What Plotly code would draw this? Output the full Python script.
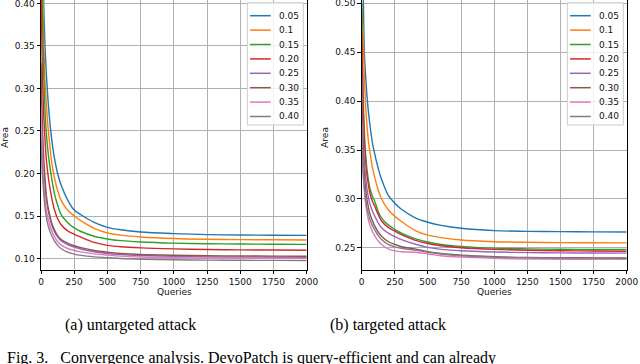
import plotly.graph_objects as go

# ---------------- data ----------------
queries = [0, 10, 20, 30, 40, 50, 60, 80, 100, 125, 150, 200, 250, 300, 400,
           500, 600, 750, 1000, 1250, 1500, 1750, 2000]
labels = ["0.05", "0.1", "0.15", "0.20", "0.25", "0.30", "0.35", "0.40"]
colors = ["#1f77b4", "#ff7f0e", "#2ca02c", "#d62728",
          "#9467bd", "#8c564b", "#e377c2", "#7f7f7f"]
x_ticks = [0, 250, 500, 750, 1000, 1250, 1500, 1750, 2000]
y_ticks_a = [0.10, 0.15, 0.20, 0.25, 0.30, 0.35, 0.40]
y_ticks_b = [0.25, 0.30, 0.35, 0.40, 0.45, 0.50]

# (a) untargeted attack
u_005 = [0.62, 0.50, 0.40, 0.350, 0.318, 0.293, 0.272, 0.241, 0.219, 0.200, 0.187, 0.169,
         0.157, 0.1515, 0.1425, 0.1367, 0.1338, 0.1312, 0.1293, 0.1281, 0.1277, 0.1274, 0.1272]
u_010 = [0.55, 0.45, 0.36, 0.310, 0.283, 0.260, 0.243, 0.214, 0.196, 0.180, 0.169, 0.157,
         0.150, 0.1445, 0.1355, 0.1300, 0.1275, 0.1254, 0.1235, 0.1226, 0.1222, 0.1220, 0.1218]
u_015 = [0.50, 0.40, 0.32, 0.275, 0.248, 0.230, 0.216, 0.195, 0.177, 0.163, 0.152, 0.1425,
         0.1360, 0.1318, 0.1262, 0.1230, 0.1210, 0.1195, 0.1181, 0.1174, 0.1170, 0.1168, 0.1167]
u_020 = [0.42, 0.32, 0.27, 0.240, 0.217, 0.202, 0.190, 0.172, 0.158, 0.147, 0.140, 0.1325,
         0.1285, 0.1252, 0.1190, 0.1155, 0.1138, 0.1125, 0.1113, 0.1106, 0.1102, 0.1100, 0.1098]
u_025 = [0.30, 0.24, 0.205, 0.185, 0.170, 0.160, 0.152, 0.140, 0.132, 0.1255, 0.1210, 0.1165,
         0.1135, 0.1112, 0.1080, 0.1060, 0.1046, 0.1035, 0.1025, 0.1020, 0.1017, 0.1015, 0.1014]
u_030 = [0.33, 0.26, 0.22, 0.195, 0.175, 0.163, 0.155, 0.142, 0.134, 0.127, 0.1225, 0.1180,
         0.1150, 0.1128, 0.1095, 0.1075, 0.1060, 0.1047, 0.1038, 0.1033, 0.1030, 0.1028, 0.1027]
u_035 = [0.28, 0.22, 0.19, 0.170, 0.157, 0.149, 0.143, 0.133, 0.126, 0.120, 0.116, 0.1118,
         0.1095, 0.1078, 0.1055, 0.1040, 0.1028, 0.1018, 0.1010, 0.1006, 0.1004, 0.1003, 0.1002]
u_040 = [0.24, 0.20, 0.178, 0.160, 0.149, 0.141, 0.135, 0.127, 0.121, 0.1155, 0.1118, 0.1075,
         0.1052, 0.1037, 0.1020, 0.1010, 0.1000, 0.0992, 0.0985, 0.0981, 0.0979, 0.0978, 0.0977]

# (b) targeted attack
t_005 = [0.56, 0.52, 0.45, 0.425, 0.405, 0.390, 0.378, 0.358, 0.345, 0.331, 0.320, 0.304,
         0.2957, 0.2895, 0.2810, 0.2762, 0.2730, 0.2700, 0.2676, 0.2669, 0.2666, 0.2664, 0.2663]
t_010 = [0.50, 0.47, 0.425, 0.395, 0.375, 0.360, 0.350, 0.333, 0.321, 0.309, 0.300, 0.289,
         0.2822, 0.2770, 0.2680, 0.2630, 0.2605, 0.2580, 0.2563, 0.2557, 0.2554, 0.2552, 0.2551]
t_015 = [0.50, 0.41, 0.37, 0.345, 0.330, 0.320, 0.312, 0.303, 0.297, 0.287, 0.2805, 0.2735,
         0.2690, 0.2650, 0.2595, 0.2560, 0.2535, 0.2515, 0.2497, 0.2490, 0.2486, 0.2484, 0.2483]
t_020 = [0.47, 0.40, 0.36, 0.338, 0.324, 0.315, 0.307, 0.298, 0.292, 0.284, 0.2775, 0.2710,
         0.2672, 0.2635, 0.2580, 0.2545, 0.2522, 0.2502, 0.2485, 0.2476, 0.2471, 0.2468, 0.2466]
t_025 = [0.42, 0.37, 0.34, 0.322, 0.310, 0.302, 0.296, 0.288, 0.282, 0.2755, 0.2705, 0.2650,
         0.2615, 0.2585, 0.2540, 0.2505, 0.2485, 0.2470, 0.2458, 0.2452, 0.2449, 0.2447, 0.2446]
t_030 = [0.40, 0.35, 0.325, 0.310, 0.299, 0.292, 0.286, 0.278, 0.272, 0.2660, 0.2620, 0.2565,
         0.2535, 0.2512, 0.2490, 0.2462, 0.2442, 0.2425, 0.2410, 0.2402, 0.2399, 0.2398, 0.2397]
t_035 = [0.38, 0.33, 0.308, 0.295, 0.286, 0.279, 0.274, 0.267, 0.262, 0.2570, 0.2535, 0.2490,
         0.2470, 0.2460, 0.2455, 0.2438, 0.2420, 0.2405, 0.2393, 0.2386, 0.2384, 0.2383, 0.2382]
t_040 = [0.37, 0.33, 0.312, 0.300, 0.291, 0.285, 0.280, 0.273, 0.268, 0.2625, 0.2585, 0.2535,
         0.2510, 0.2495, 0.2478, 0.2455, 0.2437, 0.2420, 0.2406, 0.2399, 0.2396, 0.2395, 0.2394]

untargeted = [u_005, u_010, u_015, u_020, u_025, u_030, u_035, u_040]
targeted = [t_005, t_010, t_015, t_020, t_025, t_030, t_035, t_040]

# ---------------- figure ----------------
W, H = 640, 364


def pxx(x):
    return x / W


def pxy(y):
    return 1 - y / H


fig = go.Figure()
for series, lab, col in zip(untargeted, labels, colors):
    fig.add_trace(go.Scatter(x=queries, y=series, name=lab, mode="lines",
                             line=dict(color=col, width=1.4, shape="spline", smoothing=0.9),
                             xaxis="x", yaxis="y", showlegend=False))
for series, lab, col in zip(targeted, labels, colors):
    fig.add_trace(go.Scatter(x=queries, y=series, name=lab, mode="lines",
                             line=dict(color=col, width=1.4, shape="spline", smoothing=0.9),
                             xaxis="x2", yaxis="y2", showlegend=False))

tickfont = dict(family="DejaVu Sans", size=9, color="#111111")
common_x = dict(range=[0, 2000], tickvals=x_ticks, ticks="outside", ticklen=3.5,
                tickcolor="black", showline=True, linecolor="black", linewidth=1,
                mirror=False, showgrid=True, gridcolor="#b0b0b0", gridwidth=1,
                zeroline=False, tickfont=tickfont, ticklabeloverflow="allow")
common_y = dict(ticks="outside", ticklen=3.5, tickcolor="black", showline=True,
                linecolor="black", linewidth=1, mirror=True, showgrid=True,
                gridcolor="#b0b0b0", gridwidth=1, zeroline=False, tickformat=".2f",
                tickfont=tickfont, ticklabeloverflow="allow")

ydom = [1 - 269.5 / H, 1]
fig.update_layout(
    width=W, height=H, margin=dict(l=0, r=0, t=0, b=0, autoexpand=False),
    paper_bgcolor="white", plot_bgcolor="white", showlegend=False,
    xaxis=dict(domain=[pxx(41), pxx(306.7)], anchor="y", **common_x),
    yaxis=dict(domain=ydom, anchor="x", range=[0.0871, 0.404], tickvals=y_ticks_a, **common_y),
    xaxis2=dict(domain=[pxx(361.7), pxx(626.7)], anchor="y2", **common_x),
    yaxis2=dict(domain=ydom, anchor="x2", range=[0.2279, 0.5034], tickvals=y_ticks_b, **common_y),
)

shapes = []
annotations = []
for off in (0, 320):
    # legend box
    shapes.append(dict(type="rect", xref="paper", yref="paper",
                       x0=pxx(247.3 + off), x1=pxx(303.3 + off), y0=pxy(125), y1=pxy(2.7),
                       line=dict(color="#cccccc", width=1),
                       fillcolor="rgba(255,255,255,0.8)", layer="above"))
    for i, (lab, col) in enumerate(zip(labels, colors)):
        ry = 15.7 + i * 14.4
        shapes.append(dict(type="line", xref="paper", yref="paper",
                           x0=pxx(250 + off), x1=pxx(270.7 + off), y0=pxy(ry), y1=pxy(ry),
                           line=dict(color=col, width=1.5), layer="above"))
        annotations.append(dict(text=lab, xref="paper", yref="paper", x=pxx(277.2 + off),
                                y=pxy(ry), xanchor="left", yanchor="middle", showarrow=False,
                                font=dict(family="DejaVu Sans", size=9, color="#111111")))
    # axis titles
    annotations.append(dict(text="Queries", xref="paper", yref="paper",
                            x=pxx(174 + off), y=pxy(292), xanchor="center", yanchor="middle",
                            showarrow=False, font=dict(family="DejaVu Sans", size=9, color="#111111")))
    annotations.append(dict(text="Area", xref="paper", yref="paper", textangle=-90,
                            x=pxx(4.8 + off), y=pxy(137), xanchor="center", yanchor="middle",
                            showarrow=False, font=dict(family="DejaVu Sans", size=9, color="#111111")))

serif = dict(family="Liberation Serif", size=16, color="black")
annotations.append(dict(text="(a) untargeted attack", xref="paper", yref="paper",
                        x=pxx(130), y=pxy(325), xanchor="center", yanchor="middle",
                        showarrow=False, font=serif))
annotations.append(dict(text="(b) targeted attack", xref="paper", yref="paper",
                        x=pxx(388), y=pxy(325), xanchor="center", yanchor="middle",
                        showarrow=False, font=serif))
annotations.append(dict(text="Fig. 3.   Convergence analysis. DevoPatch is query-efficient and can already",
                        xref="paper", yref="paper", x=pxx(5), y=pxy(347),
                        xanchor="left", yanchor="top", showarrow=False, font=serif))

fig.update_layout(shapes=shapes, annotations=annotations)
fig.write_html("out.html", config={"displayModeBar": False},
               post_script="document.body.style.margin='0';document.body.style.overflow='hidden';")
